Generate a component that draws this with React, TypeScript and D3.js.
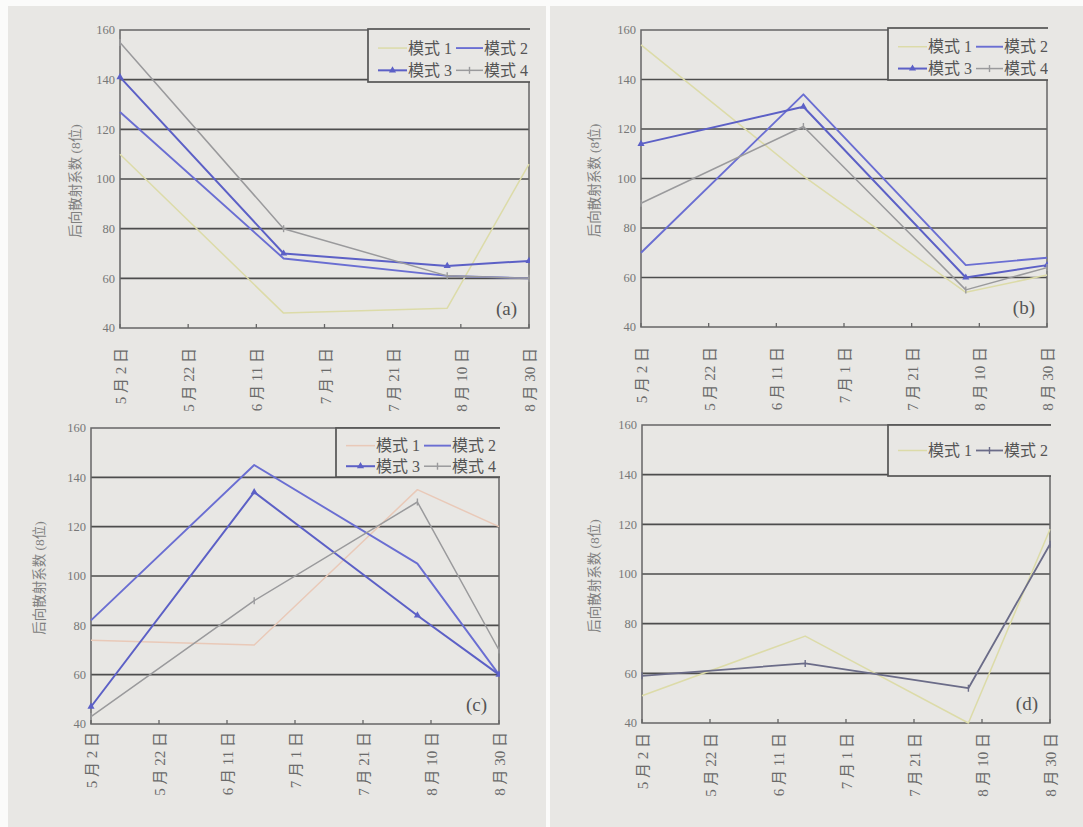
import React from 'react';
import * as d3 from 'd3';

// observation dates (same for every panel)
const obsDates = ['2010-05-02', '2010-06-19', '2010-08-06', '2010-08-30'];
const tickLabels = ['5 月 2 日', '5 月 22 日', '6 月 11 日', '7 月 1 日', '7 月 21 日', '8 月 10 日', '8 月 30 日'];
const yTicks = [40, 60, 80, 100, 120, 140, 160];

// panel (a)
const aMode1 = [110, 46, 48, 106];
const aMode2 = [127, 68, 61, 60];
const aMode3 = [141, 70, 65, 67];
const aMode4 = [155, 80, 61, 60];
// panel (b)
const bMode1 = [154, 101, 54, 61];
const bMode2 = [70, 134, 65, 68];
const bMode3 = [114, 129, 60, 65];
const bMode4 = [90, 121, 55, 64];
// panel (c)
const cMode1 = [74, 72, 135, 120];
const cMode2 = [82, 145, 105, 60];
const cMode3 = [47, 134, 84, 60];
const cMode4 = [43, 90, 130, 70];
// panel (d)
const dMode1 = [51, 75, 40, 118];
const dMode2 = [59, 64, 54, 112];

const yLabel = '后向散射系数 (8位)';
const FONT = "'Liberation Serif', 'Noto Sans CJK SC', serif";
const BG = '#e8e7e4';

type Style = { color: string; width: number; marker?: 'tri' | 'tick' };
const YELLOW: Style = { color: '#dcdba8', width: 1.5 };
const PINK: Style = { color: '#e9c9b8', width: 1.5 };
const BLUE: Style = { color: '#6a6ed2', width: 1.9 };
const BLUE_MK: Style = { color: '#5c60c6', width: 2, marker: 'tri' };
const GREY: Style = { color: '#9a9a9c', width: 1.5, marker: 'tick' };
const DARK: Style = { color: '#6b6c88', width: 1.8, marker: 'tick' };

interface Series { name: string; values: number[]; style: Style }
interface Panel {
  tag: string; x0: number; x1: number; y0: number; y1: number;
  legend: { x: number; y: number; h: number };
  yLabelX: number; labelGap: number; series: Series[];
}

const panels: Panel[] = [
  {
    tag: '(a)', x0: 120, x1: 529, y0: 30, y1: 328, yLabelX: 80, labelGap: 20,
    legend: { x: 368, y: 29, h: 53 },
    series: [
      { name: '模式 1', values: aMode1, style: YELLOW },
      { name: '模式 2', values: aMode2, style: BLUE },
      { name: '模式 3', values: aMode3, style: BLUE_MK },
      { name: '模式 4', values: aMode4, style: GREY },
    ],
  },
  {
    tag: '(b)', x0: 641, x1: 1047, y0: 30, y1: 327, yLabelX: 599, labelGap: 20,
    legend: { x: 888, y: 28, h: 52 },
    series: [
      { name: '模式 1', values: bMode1, style: YELLOW },
      { name: '模式 2', values: bMode2, style: BLUE },
      { name: '模式 3', values: bMode3, style: BLUE_MK },
      { name: '模式 4', values: bMode4, style: GREY },
    ],
  },
  {
    tag: '(c)', x0: 91, x1: 499, y0: 428, y1: 724, yLabelX: 44, labelGap: 8,
    legend: { x: 336, y: 428, h: 49 },
    series: [
      { name: '模式 1', values: cMode1, style: PINK },
      { name: '模式 2', values: cMode2, style: BLUE },
      { name: '模式 3', values: cMode3, style: BLUE_MK },
      { name: '模式 4', values: cMode4, style: GREY },
    ],
  },
  {
    tag: '(d)', x0: 642, x1: 1050, y0: 425, y1: 723, yLabelX: 599, labelGap: 10,
    legend: { x: 888, y: 425, h: 51 },
    series: [
      { name: '模式 1', values: dMode1, style: YELLOW },
      { name: '模式 2', values: dMode2, style: DARK },
    ],
  },
];

const parse = d3.timeParse('%Y-%m-%d');
const dates = obsDates.map(d => parse(d) as Date);
const start = dates[0];
const end = parse('2010-08-30') as Date;
const tickDates = tickLabels.map((_, i) => d3.timeDay.offset(start, i * 20));

const Marker: React.FC<{ x: number; y: number; s: Style }> = ({ x, y, s }) => {
  if (s.marker === 'tri') {
    return <path d={d3.symbol(d3.symbolTriangle, 22)() || ''} transform={`translate(${x},${y})`} fill={s.color} />;
  }
  if (s.marker === 'tick') {
    return <path d={`M${x},${y - 3.5}V${y + 3.5}`} stroke={s.color} strokeWidth={1.4} />;
  }
  return null;
};

const ChartPanel: React.FC<{ p: Panel }> = ({ p }) => {
  const x = d3.scaleTime().domain([start, end]).range([p.x0, p.x1]);
  const y = d3.scaleLinear().domain([40, 160]).range([p.y1, p.y0]);
  const line = d3.line<number>().x((_, i) => x(dates[i])).y(v => y(v));
  const clipId = `clip-${p.tag.replace(/\W/g, '')}`;
  const lg = p.legend;
  const twoRows = p.series.length > 2;
  const yMid = (p.y0 + p.y1) / 2;

  return (
    <g>
      <defs>
        <clipPath id={clipId}>
          <rect x={p.x0 - 4} y={p.y0 - 4} width={p.x1 - p.x0 + 5} height={p.y1 - p.y0 + 8} />
        </clipPath>
      </defs>
      {/* grid */}
      {yTicks.map(t => (
        <g key={t}>
          {t > 40 && t < 160 && (
            <line x1={p.x0} x2={p.x1} y1={y(t)} y2={y(t)} stroke="#4d4d4d" strokeWidth={1.7} />
          )}
          <text x={p.x0 - 5} y={y(t)} dy="0.35em" textAnchor="end" fontSize={12.5} fill="#777" fontFamily={FONT}>{t}</text>
        </g>
      ))}
      <rect x={p.x0} y={p.y0} width={p.x1 - p.x0} height={p.y1 - p.y0} fill="none" stroke="#666" strokeWidth={1.5} />
      {/* x ticks */}
      {tickDates.map((d, i) => (
        <g key={i}>
          <line x1={x(d)} x2={x(d)} y1={p.y1} y2={p.y1 - 4} stroke="#666" strokeWidth={1.3} />
          <text transform={`translate(${x(d) + 6},${p.y1 + p.labelGap}) rotate(-90)`} textAnchor="end" fontSize={15}
                fill="#6a6a6a" fontFamily={FONT}>{tickLabels[i]}</text>
        </g>
      ))}
      {/* y label */}
      <text transform={`translate(${p.yLabelX},${yMid + 2}) rotate(-90)`} textAnchor="middle" fontSize={13.5}
            fill="#808080" fontFamily={FONT}>{yLabel}</text>
      {/* series */}
      <g clipPath={`url(#${clipId})`}>
        {p.series.map(s => (
          <g key={s.name}>
            <path d={line(s.values) || ''} fill="none" stroke={s.style.color} strokeWidth={s.style.width}
                  strokeLinejoin="round" />
            {s.values.map((v, i) => <Marker key={i} x={x(dates[i])} y={y(v)} s={s.style} />)}
          </g>
        ))}
        {/* legend */}
        <rect x={lg.x} y={lg.y} width={p.x1 - lg.x + 10} height={lg.h} fill={BG} stroke="#555" strokeWidth={1.7} />
        {p.series.map((s, i) => {
          const col = i % 2;
          const row = Math.floor(i / 2);
          const ly = twoRows ? lg.y + lg.h * (row === 0 ? 0.36 : 0.78) : lg.y + lg.h / 2;
          const lx = lg.x + (col === 0 ? 10 : 88);
          const tx = lg.x + (col === 0 ? 39 : 115);
          return (
            <g key={s.name}>
              <line x1={lx} x2={tx} y1={ly} y2={ly} stroke={s.style.color} strokeWidth={s.style.width} />
              <Marker x={(lx + tx) / 2} y={ly} s={s.style} />
              <text x={tx + 1} y={ly} dy="0.36em" fontSize={16} fill="#555" fontFamily={FONT}>{s.name}</text>
            </g>
          );
        })}
      </g>
      <text x={p.x1 - 12} y={p.y1 - 13} textAnchor="end" fontSize={19} fill="#555" fontFamily={FONT}>{p.tag}</text>
    </g>
  );
};

export default function App() {
  return (
    <svg width={1083} height={827} style={{ position: 'absolute', left: 0, top: 0 }}>
      <rect x={0} y={0} width={1083} height={827} fill="#fbfbfa" />
      <rect x={8} y={6} width={538} height={821} fill={BG} />
      <rect x={550} y={6} width={533} height={821} fill={BG} />
      {panels.map(p => <ChartPanel key={p.tag} p={p} />)}
    </svg>
  );
}
